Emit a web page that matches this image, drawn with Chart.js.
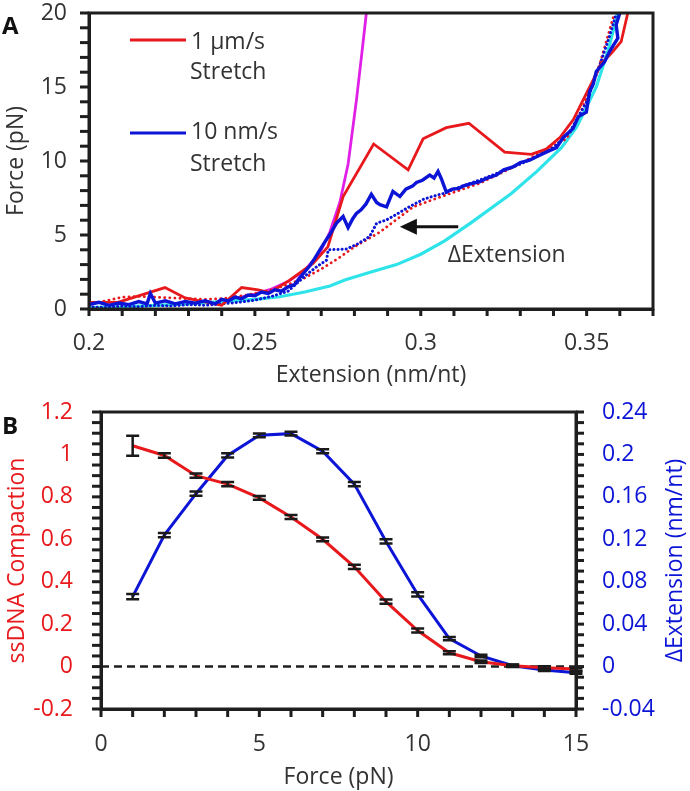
<!DOCTYPE html>
<html>
<head>
<meta charset="utf-8">
<script src="https://cdn.jsdelivr.net/npm/chart.js@4"></script>
<style>
  html, body { margin: 0; padding: 0; background: #fff; }
  #wrap { position: relative; width: 690px; height: 791px; }
  canvas { position: absolute; left: 0; }
  #chartA { top: 0; }
  #chartB { top: 390px; }
</style>
</head>
<body>
<div id="wrap">
  <canvas id="chartA" width="690" height="395"></canvas>
  <canvas id="chartB" width="690" height="401"></canvas>
</div>
<script>

/* =========================
   PANEL A DATA (force vs extension)
========================= */

const extTickLabels = [0.2, 0.25, 0.3, 0.35];
const forceTickLabels = [0, 5, 10, 15, 20];

// 1 um/s stretch (red solid)
const redStretchX = [0.200, 0.2087, 0.2229, 0.229, 0.240, 0.246, 0.251, 0.2545, 0.2605, 0.2676, 0.272, 0.2766,
    0.2858, 0.2962, 0.3007, 0.3077, 0.3145, 0.3253, 0.3333, 0.3378, 0.342, 0.346, 0.350, 0.3545, 0.3575, 0.3604, 0.3624];
const redStretchY = [0.45, 0.45, 1.45, 0.75, 0.25, 1.45, 1.30, 1.10, 1.95, 3.10, 4.20, 7.60,
    11.15, 9.40, 11.50, 12.25, 12.55, 10.60, 10.45, 10.80, 11.60, 12.80, 14.60, 16.60, 17.30, 18.06, 20.0];

// 1 um/s relax (red dotted)
const redRelaxX = [0.200, 0.205, 0.210, 0.215, 0.220, 0.225, 0.230, 0.235, 0.240, 0.245, 0.250, 0.255, 0.260,
    0.265, 0.270, 0.275, 0.280, 0.2877, 0.2977, 0.305, 0.3178, 0.3298, 0.3439, 0.3479, 0.3539, 0.3584];
const redRelaxY = [0.30, 0.55, 0.80, 0.85, 0.80, 0.75, 0.70, 0.65, 0.70, 0.85, 1.05, 1.30, 1.65,
    2.10, 2.70, 3.40, 4.20, 5.20, 6.90, 7.50, 8.50, 9.80, 11.50, 13.10, 16.50, 20.0];

// 10 nm/s stretch (blue solid)
const blueStretchX = [0.200, 0.203, 0.206, 0.209, 0.212, 0.215, 0.2175, 0.2185, 0.220, 0.223, 0.226, 0.229,
    0.232, 0.235, 0.238, 0.240, 0.242, 0.244, 0.246, 0.248, 0.250, 0.252, 0.254, 0.256, 0.258, 0.260, 0.262,
    0.2635, 0.265, 0.2665, 0.268, 0.2696, 0.271, 0.2725, 0.2746, 0.2766, 0.2781, 0.2795, 0.2806, 0.282, 0.2835,
    0.2851, 0.2867, 0.2877, 0.2897, 0.2916, 0.2937, 0.2955, 0.2975, 0.2987, 0.3005, 0.3027, 0.304, 0.3052,
    0.3062, 0.3077, 0.3095, 0.3115, 0.3127, 0.315, 0.3178, 0.320, 0.3228, 0.325, 0.3278, 0.330, 0.3328, 0.3355,
    0.3378, 0.3409, 0.343, 0.3459, 0.3475, 0.3499, 0.3509, 0.352, 0.3529, 0.3554, 0.3569, 0.3594, 0.3589, 0.360];
const blueStretchY = [0.30, 0.45, 0.25, 0.40, 0.30, 0.50, 0.35, 1.05, 0.40, 0.55, 0.35, 0.50,
    0.40, 0.55, 0.35, 0.65, 0.55, 0.80, 0.70, 0.95, 0.90, 1.15, 1.05, 1.30, 1.20, 1.50, 1.65,
    2.10, 2.50, 2.90, 3.40, 4.00, 4.50, 5.00, 5.80, 6.25, 5.50, 6.10, 6.45, 6.70, 7.10,
    7.75, 7.20, 7.05, 6.90, 7.95, 7.60, 8.10, 8.30, 8.55, 8.70, 9.05, 8.85, 9.30,
    8.80, 7.90, 8.10, 8.15, 8.30, 8.45, 8.60, 8.85, 9.05, 9.40, 9.60, 9.90, 10.05, 10.35,
    10.60, 10.90, 11.60, 12.20, 13.00, 13.30, 14.70, 15.20, 16.05, 16.70, 17.40, 18.30, 19.20, 20.0];

// 10 nm/s relax (blue dotted)
const blueRelaxX = [0.200, 0.205, 0.210, 0.215, 0.220, 0.225, 0.230, 0.235, 0.240, 0.245, 0.250, 0.255, 0.260,
    0.2625, 0.2655, 0.2686, 0.2716, 0.2721, 0.2776, 0.281, 0.2846, 0.2867, 0.2895, 0.2927, 0.2965, 0.3007,
    0.3035, 0.3067, 0.310, 0.315, 0.320, 0.325, 0.330, 0.335, 0.340, 0.345, 0.350, 0.354, 0.357, 0.359];
const blueRelaxY = [0.15, 0.10, 0.20, 0.15, 0.25, 0.20, 0.30, 0.25, 0.35, 0.45, 0.60, 0.85, 1.20,
    1.70, 2.30, 2.85, 3.30, 4.00, 4.05, 4.40, 4.90, 5.80, 6.00, 6.40, 6.90, 7.40,
    7.60, 7.80, 8.10, 8.50, 8.90, 9.35, 9.80, 10.30, 10.90, 12.00, 14.00, 16.50, 18.50, 20.0];

// model curves
const magentaX = [0.245, 0.250, 0.255, 0.260, 0.265, 0.2696, 0.2726, 0.2756, 0.2781, 0.2806, 0.2821, 0.2836];
const magentaY = [0.75, 1.00, 1.35, 1.85, 2.60, 3.80, 5.20, 7.20, 9.80, 14.10, 17.00, 20.0];

const cyanX = [0.200, 0.210, 0.220, 0.230, 0.240, 0.250, 0.2575, 0.265, 0.2726, 0.2771, 0.285, 0.2927, 0.300,
    0.3072, 0.315, 0.3273, 0.335, 0.3424, 0.347, 0.3529, 0.3565, 0.3594];
const cyanY = [0.10, 0.15, 0.25, 0.35, 0.50, 0.65, 0.83, 1.15, 1.55, 1.96, 2.50, 3.00, 3.70,
    4.60, 5.80, 7.80, 9.30, 10.90, 12.30, 15.00, 17.50, 20.0];

// arrow + label (data coords)
const arrowFrom = 0.3113, arrowTo = 0.2937, arrowForce = 5.55;
const deltaLabelX = 0.3081, deltaLabelForce = 3.6;


/* =========================
   PANEL B DATA (vs force)
========================= */

const forceB = [1, 2, 3, 4, 5, 6, 7, 8, 9, 10, 11, 12, 13, 14, 15];
const compaction = [1.041, 0.995, 0.90, 0.86, 0.795, 0.705, 0.60, 0.47, 0.306, 0.17, 0.065, 0.023, 0.004, -0.005, -0.012];
const compactionErr = [0.047, 0.011, 0.01, 0.01, 0.009, 0.009, 0.009, 0.01, 0.01, 0.009, 0.007, 0.006, 0.006, 0.006, 0.006];
const deltaExt = [0.066, 0.124, 0.163, 0.199, 0.218, 0.2196, 0.203, 0.172, 0.118, 0.068, 0.0263, 0.010, 0.0008, -0.0032, -0.0058];
const deltaExtErr = [0.0025, 0.002, 0.002, 0.002, 0.0018, 0.0018, 0.002, 0.002, 0.002, 0.002, 0.0015, 0.0012, 0.001, 0.001, 0.001];

const forceBTickLabels = [0, 5, 10, 15];
const compactionTickLabels = [-0.2, 0, 0.2, 0.4, 0.6, 0.8, 1, 1.2];
const deltaTickLabels = [-0.04, 0, 0.04, 0.08, 0.12, 0.16, 0.2, 0.24];


/* =========================
   HELPERS
========================= */

const FONT = "'Open Sans', sans-serif";
const AXIS = "#1e1e1e";
const TXT = "#333";
const RED = "#e8191c";
const BLUE = "#0c14d6";

Chart.defaults.font.family = FONT;
Chart.defaults.font.size = 23;

function pts(xs, ys) {
    return xs.map((x, i) => ({ x: x, y: ys[i] }));
}

function labelFrom(list) {
    return function (v) {
        const t = list.find(t => Math.abs(t - v) < 1e-6);
        return t === undefined ? "" : String(t);
    };
}

const noGrid = { display: false, drawTicks: false };

// fixed box sizes, and no extra label padding pushing the plot area around
function fixBox(w, h) {
    return function (s) {
        if (w !== null) s.width = w;
        if (h !== null) s.height = h;
        s.paddingTop = 0;
        s.paddingBottom = 0;
        s.paddingLeft = 0;
        s.paddingRight = 0;
    };
}

// outward tick marks on every scale tick, plus a full frame
function drawTicksAndFrame(chart, lens) {
    const { ctx, chartArea: a } = chart;
    ctx.save();
    ctx.fillStyle = AXIS;
    const tw = 3;
    ["x", "y", "y2"].forEach(id => {
        const s = chart.scales[id];
        if (!s) return;
        const len = lens[id];
        s.ticks.forEach(t => {
            const p = s.getPixelForValue(t.value);
            if (id === "x") ctx.fillRect(p - tw / 2, a.bottom, tw, len);
            else if (id === "y") ctx.fillRect(a.left - len, p - tw / 2, len, tw);
            else ctx.fillRect(a.right, p - tw / 2, len, tw);
        });
    });
    ctx.strokeStyle = AXIS;
    ctx.lineWidth = 3;
    ctx.strokeRect(a.left, a.top, a.right - a.left, a.bottom - a.top);
    ctx.restore();
}


/* =========================
   PANEL A
========================= */

const panelA = {
    id: "panelA",
    afterDraw(chart) {
        const { ctx, scales: { x, y } } = chart;
        drawTicksAndFrame(chart, { x: 7, y: 9 });
        ctx.save();

        // legend
        ctx.lineWidth = 3;
        ctx.strokeStyle = RED;
        ctx.beginPath(); ctx.moveTo(130, 40); ctx.lineTo(186, 40); ctx.stroke();
        ctx.strokeStyle = BLUE;
        ctx.beginPath(); ctx.moveTo(130, 133); ctx.lineTo(186, 133); ctx.stroke();

        ctx.fillStyle = TXT;
        ctx.font = "23px " + FONT;
        ctx.textBaseline = "middle";
        ctx.textAlign = "left";
        ctx.fillText("1 µm/s", 191, 42);
        ctx.fillText("Stretch", 190, 72);
        ctx.fillText("10 nm/s", 191, 132);
        ctx.fillText("Stretch", 190, 164);

        // arrow
        const x0 = x.getPixelForValue(arrowFrom);
        const x1 = x.getPixelForValue(arrowTo);
        const ya = y.getPixelForValue(arrowForce);
        ctx.strokeStyle = "#111";
        ctx.lineWidth = 3;
        ctx.beginPath(); ctx.moveTo(x0, ya); ctx.lineTo(x1 + 14, ya); ctx.stroke();
        ctx.fillStyle = "#111";
        ctx.beginPath();
        ctx.moveTo(x1, ya);
        ctx.lineTo(x1 + 17, ya - 8);
        ctx.lineTo(x1 + 17, ya + 8);
        ctx.closePath();
        ctx.fill();

        ctx.fillStyle = TXT;
        ctx.fillText("ΔExtension", x.getPixelForValue(deltaLabelX), y.getPixelForValue(deltaLabelForce));

        ctx.font = "bold 24px " + FONT;
        ctx.fillStyle = "#111";
        ctx.fillText("A", 2, 27);

        ctx.restore();
    }
};

new Chart(document.getElementById("chartA"), {
    type: "scatter",
    data: {
        datasets: [
            { data: pts(blueStretchX, blueStretchY), showLine: true, borderColor: BLUE, borderWidth: 3.4,
              pointRadius: 0, order: 1 },
            { data: pts(redStretchX, redStretchY), showLine: true, borderColor: RED, borderWidth: 2.8,
              pointRadius: 0, order: 2 },
            { data: pts(blueRelaxX, blueRelaxY), showLine: true, borderColor: BLUE, borderWidth: 3,
              borderDash: [0.1, 4], borderCapStyle: "round", pointRadius: 0, order: 3 },
            { data: pts(redRelaxX, redRelaxY), showLine: true, borderColor: RED, borderWidth: 2.8,
              borderDash: [0.1, 5], borderCapStyle: "round", pointRadius: 0, order: 4 },
            { data: pts(magentaX, magentaY), showLine: true, borderColor: "#e020e6", borderWidth: 2.8,
              pointRadius: 0, order: 5 },
            { data: pts(cyanX, cyanY), showLine: true, borderColor: "#2fe3ea", borderWidth: 3.2,
              pointRadius: 0, order: 6 }
        ]
    },
    options: {
        responsive: false,
        animation: false,
        layout: { padding: { left: 0, top: 13, right: 37, bottom: 0 } },
        plugins: { legend: { display: false }, tooltip: { enabled: false } },
        scales: {
            x: {
                type: "linear", min: 0.2, max: 0.37,
                ticks: { stepSize: 0.01, autoSkip: false, maxRotation: 0, padding: 21, color: TXT,
                         callback: labelFrom(extTickLabels) },
                grid: noGrid,
                border: { color: AXIS, width: 3 },
                title: { display: true, text: "Extension (nm/nt)", color: TXT, padding: { top: 0, bottom: 6 } },
                afterFit: fixBox(null, 86)
            },
            y: {
                type: "linear", min: 0, max: 20,
                ticks: { stepSize: 1, autoSkip: false, padding: 22, color: TXT,
                         callback: labelFrom(forceTickLabels) },
                grid: noGrid,
                border: { color: AXIS, width: 3 },
                title: { display: true, text: "Force (pN)", color: TXT, padding: { top: 3, bottom: 0 } },
                afterFit: fixBox(89, null)
            }
        }
    },
    plugins: [panelA]
});


/* =========================
   PANEL B
========================= */

const panelB = {
    id: "panelB",
    beforeDatasetsDraw(chart) {
        const { ctx, chartArea: a, scales: { y } } = chart;
        const y0 = y.getPixelForValue(0);
        ctx.save();
        ctx.strokeStyle = AXIS;
        ctx.lineWidth = 2.5;
        ctx.setLineDash([8, 5]);
        ctx.beginPath(); ctx.moveTo(a.left, y0); ctx.lineTo(a.right, y0); ctx.stroke();
        ctx.restore();
    },
    afterDatasetsDraw(chart) {
        const { ctx, scales: { x, y, y2 } } = chart;
        ctx.save();
        ctx.strokeStyle = "#1a1a1a";
        ctx.lineWidth = 2.5;

        function bar(px, top, bottom) {
            ctx.beginPath();
            ctx.moveTo(px, top); ctx.lineTo(px, bottom);
            ctx.moveTo(px - 6.5, top); ctx.lineTo(px + 6.5, top);
            ctx.moveTo(px - 6.5, bottom); ctx.lineTo(px + 6.5, bottom);
            ctx.stroke();
        }

        forceB.forEach((f, i) => {
            const px = x.getPixelForValue(f);
            bar(px, y.getPixelForValue(compaction[i] + compactionErr[i]), y.getPixelForValue(compaction[i] - compactionErr[i]));
            bar(px, y2.getPixelForValue(deltaExt[i] + deltaExtErr[i]), y2.getPixelForValue(deltaExt[i] - deltaExtErr[i]));
        });
        ctx.restore();
    },
    afterDraw(chart) {
        const { ctx, chartArea: a } = chart;
        drawTicksAndFrame(chart, { x: 8, y: 9, y2: 8 });

        // right axis title reads bottom-to-top like the left one
        ctx.save();
        ctx.translate(675, (a.top + a.bottom) / 2);
        ctx.rotate(-Math.PI / 2);
        ctx.fillStyle = BLUE;
        ctx.font = "23px " + FONT;
        ctx.textAlign = "center";
        ctx.textBaseline = "middle";
        ctx.fillText("ΔExtension (nm/nt)", 0, 0);
        ctx.restore();

        ctx.save();
        ctx.font = "bold 24px " + FONT;
        ctx.fillStyle = "#111";
        ctx.textBaseline = "middle";
        ctx.fillText("B", 2, 37);
        ctx.restore();
    }
};

new Chart(document.getElementById("chartB"), {
    type: "line",
    data: {
        datasets: [
            { data: pts(forceB, compaction), borderColor: RED, borderWidth: 3, pointRadius: 0,
              yAxisID: "y", tension: 0 },
            { data: pts(forceB, deltaExt), borderColor: BLUE, borderWidth: 3, pointRadius: 0,
              yAxisID: "y2", tension: 0 }
        ]
    },
    options: {
        responsive: false,
        animation: false,
        layout: { padding: { left: 0, top: 22, right: 0, bottom: 0 } },
        plugins: { legend: { display: false }, tooltip: { enabled: false } },
        scales: {
            x: {
                type: "linear", min: 0, max: 15,
                ticks: { stepSize: 1, autoSkip: false, maxRotation: 0, padding: 22, color: TXT,
                         callback: labelFrom(forceBTickLabels) },
                grid: noGrid,
                border: { color: AXIS, width: 3 },
                title: { display: true, text: "Force (pN)", color: TXT, padding: { top: 0, bottom: 0 } },
                afterFit: fixBox(null, 82)
            },
            y: {
                type: "linear", position: "left", min: -0.2, max: 1.2,
                ticks: { stepSize: 0.05, autoSkip: false, padding: 28, color: RED,
                         callback: labelFrom(compactionTickLabels) },
                grid: noGrid,
                border: { color: AXIS, width: 3 },
                title: { display: true, text: "ssDNA Compaction", color: RED, padding: { top: 4, bottom: 0 } },
                afterFit: fixBox(101, null)
            },
            y2: {
                type: "linear", position: "right", min: -0.04, max: 0.24,
                ticks: { stepSize: 0.01, autoSkip: false, padding: 26, color: BLUE,
                         callback: labelFrom(deltaTickLabels) },
                grid: noGrid,
                border: { color: AXIS, width: 3 },
                afterFit: fixBox(114, null)
            }
        }
    },
    plugins: [panelB]
});
</script>
</body>
</html>
